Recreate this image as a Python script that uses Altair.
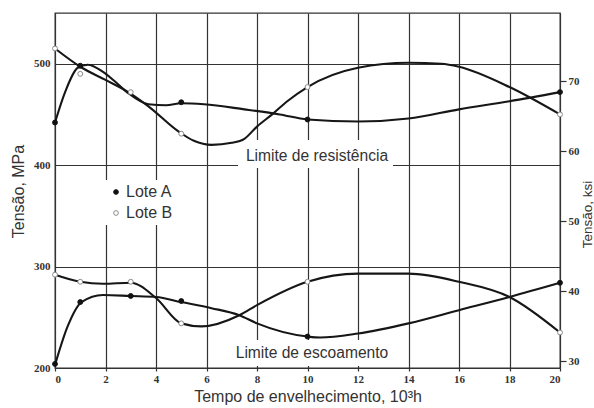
import altair as alt
import pandas as pd

MPA_PER_KSI = 6.895

# Measured points: ageing time (10^3 h) and stress (MPa)
res_a_t = [0, 1, 5, 10, 20]
res_a_mpa = [442, 498, 462, 445, 472]
res_b_t = [0, 1, 3, 5, 10, 20]
res_b_mpa = [515, 490, 472, 431, 477, 450]
esc_a_t = [0, 1, 3, 5, 10, 20]
esc_a_mpa = [204, 265, 271, 266, 231, 284]
esc_b_t = [0, 1, 3, 5, 10, 20]
esc_b_mpa = [292, 285, 285, 244, 285, 235]

# Hand-drawn trend curves through the measurements
res_a_curve_t = [0, 0.4, 0.9, 1.3, 1.9, 2.4, 2.9, 3.7, 4.4, 5, 5.9, 7.5, 8.9, 10, 12, 14, 16, 18, 20]
res_a_curve = [442, 472, 496, 499, 492, 482, 471, 460, 459, 461, 460, 455, 450, 445, 443, 446, 455, 463, 472]
res_b_curve_t = [0, 1, 2, 2.9, 3.7, 4.9, 5.5, 6.2, 7, 7.5, 8, 8.6, 9.2, 10, 12, 14, 15.3, 16, 18, 20]
res_b_curve = [515, 497, 484, 472, 458, 433, 424, 420, 422, 426, 438, 450, 463, 477, 496, 501, 500, 497, 477, 450]
esc_a_curve_t = [0, 0.5, 1.05, 1.9, 3, 4, 5, 6.2, 7.3, 8, 10, 10.5, 12, 14, 16, 18, 20]
esc_a_curve = [203, 241, 265, 272, 271, 270, 265, 259, 252, 244, 231, 230, 234, 244, 257, 270, 284]
esc_b_curve_t = [0, 1, 1.9, 3, 4, 5, 5.8, 7.3, 8, 10, 12, 14, 16, 18, 20]
esc_b_curve = [292, 285, 283, 284, 269, 244, 241, 252, 262, 285, 293, 293, 285, 270, 235]

lotes = ["Lote A", "Lote B"]
x_ticks = list(range(0, 21, 2))
mpa_ticks = [200, 300, 400, 500]
ksi_ticks = [30, 40, 50, 60, 70]
label_res = "Limite de resistência"
label_esc = "Limite de escoamento"


def frame(t, v, lote, curva):
    return pd.DataFrame({"t": t, "mpa": v, "lote": lote, "curva": curva})


points = pd.concat([
    frame(res_a_t, res_a_mpa, "Lote A", "res A"),
    frame(res_b_t, res_b_mpa, "Lote B", "res B"),
    frame(esc_a_t, esc_a_mpa, "Lote A", "esc A"),
    frame(esc_b_t, esc_b_mpa, "Lote B", "esc B"),
], ignore_index=True)

curves = pd.concat([
    frame(res_a_curve_t, res_a_curve, "Lote A", "res A"),
    frame(res_b_curve_t, res_b_curve, "Lote B", "res B"),
    frame(esc_a_curve_t, esc_a_curve, "Lote A", "esc A"),
    frame(esc_b_curve_t, esc_b_curve, "Lote B", "esc B"),
], ignore_index=True)

TEXT_FONT = "Liberation Sans"
TICK_FONT = "Liberation Sans Narrow"
INK = "#333333"

x_enc = alt.X(
    "t:Q",
    scale=alt.Scale(domain=[0, 20], nice=False, zero=False),
    axis=alt.Axis(
        values=x_ticks, format="d", grid=True, ticks=True, tickSize=3,
        title="Tempo de envelhecimento, 10³h",
        titleFont=TEXT_FONT, titleFontSize=16, titleFontWeight="normal",
        titleColor=INK, titlePadding=4,
    ),
)
y_enc = alt.Y(
    "mpa:Q",
    scale=alt.Scale(domain=[200, 550], nice=False, zero=False),
    axis=alt.Axis(
        values=mpa_ticks, format="d", grid=True, ticks=False, labelPadding=5,
        title="Tensão, MPa",
        titleFont=TEXT_FONT, titleFontSize=16, titleFontWeight="normal",
        titleColor=INK, titleAngle=270, titleAlign="center", titleBaseline="middle",
        titleX=-37, titleY=178,
    ),
)

blank = alt.Data(values=[{}])

# white boxes behind the in-plot labels
box_res = alt.Chart(blank).mark_rect(color="white").encode(
    x=alt.value(183), x2=alt.value(338), y=alt.value(127), y2=alt.value(155)
)
box_esc = alt.Chart(blank).mark_rect(color="white").encode(
    x=alt.value(177), x2=alt.value(337), y=alt.value(327), y2=alt.value(353)
)

lines = alt.Chart(curves).mark_line(
    color="#161616", strokeWidth=2.1, interpolate="monotone"
).encode(x=x_enc, y=y_enc, detail="curva:N", order="t:Q")

legend = alt.Legend(
    title=None, orient="none", legendX=49, legendY=167, padding=4,
    fillColor="white", labelFont=TEXT_FONT, labelFontSize=16, labelColor=INK,
    labelOffset=2, rowPadding=5, symbolSize=22, symbolStrokeWidth=1,
    symbolType="circle",
)
dots = alt.Chart(points).mark_point(
    filled=True, size=24, strokeWidth=1, opacity=1
).encode(
    x=x_enc, y=y_enc,
    fill=alt.Fill("lote:N", scale=alt.Scale(domain=lotes, range=["#111111", "#ffffff"]), legend=legend),
    stroke=alt.Stroke("lote:N", scale=alt.Scale(domain=lotes, range=["#111111", "#8a8a8a"]), legend=legend),
)

text_res = alt.Chart(blank).mark_text(
    text=label_res, font=TEXT_FONT, fontSize=15.6, color=INK, align="center", baseline="middle"
).encode(x=alt.value(262), y=alt.value(143))
text_esc = alt.Chart(blank).mark_text(
    text=label_esc, font=TEXT_FONT, fontSize=15.6, color=INK, align="center", baseline="middle"
).encode(x=alt.value(257), y=alt.value(340))

main = alt.layer(box_res, box_esc, lines, dots, text_res, text_esc)

# secondary stress scale in ksi on the right
ksi_axis = alt.Chart(points).transform_calculate(
    ksi=f"datum.mpa / {MPA_PER_KSI}"
).mark_point(opacity=0).encode(
    x=x_enc,
    y=alt.Y(
        "ksi:Q",
        scale=alt.Scale(domain=[200 / MPA_PER_KSI, 550 / MPA_PER_KSI], nice=False, zero=False),
        axis=alt.Axis(
            orient="right", values=ksi_ticks, format="d", grid=False, ticks=True,
            tickSize=6, labelPadding=2,
            title="Tensão, ksi",
            titleFont=TEXT_FONT, titleFontSize=13.5, titleFontWeight="normal",
            titleColor=INK, titleAngle=270, titleAlign="center", titleBaseline="middle",
            titleX=27, titleY=201,
        ),
    ),
)

chart = alt.layer(main, ksi_axis).resolve_scale(y="independent").properties(
    width=505,
    height=355,
    autosize=alt.AutoSizeParams(type="none"),
    padding={"left": 55, "top": 13, "right": 34, "bottom": 40},
    background="white",
).configure_view(
    stroke=INK, strokeWidth=1.3
).configure_axis(
    domain=False,
    gridColor=INK, gridWidth=1.2, gridOpacity=1,
    tickColor=INK, tickWidth=1.2,
    labelFont=TICK_FONT, labelFontSize=11, labelFontWeight="bold", labelColor=INK,
)

chart.save("out.html", embed_options={"renderer": "svg", "actions": False})
